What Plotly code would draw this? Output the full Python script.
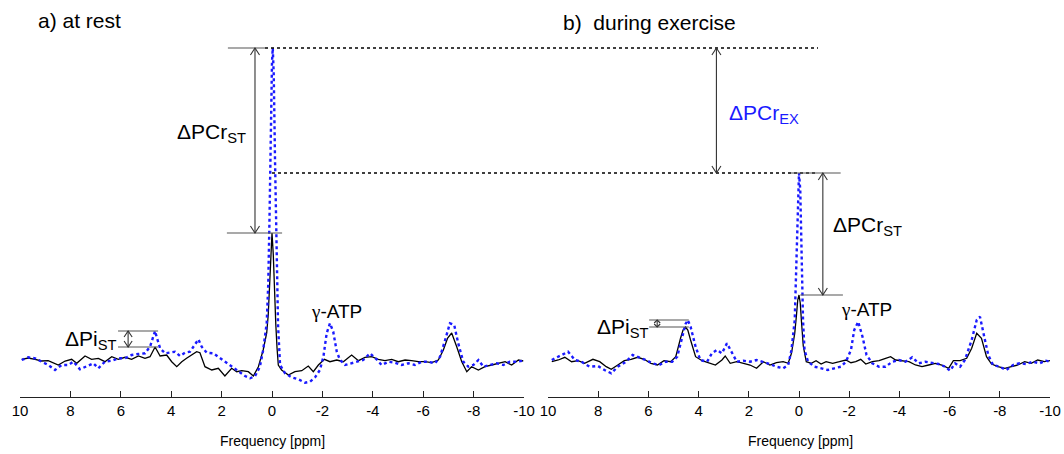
import plotly.graph_objects as go

W, H = 1064, 454

# ---------------- data (ppm, intensity a.u.) ----------------
rest_black_ppm = [9.93, 9.67, 9.40, 9.14, 8.88, 8.48, 8.21, 7.95, 7.75, 7.42, 7.16, 6.89, 6.63, 6.36, 6.10, 5.83, 5.57,
                  5.30, 5.04, 4.84, 4.64, 4.44, 4.18, 3.98, 3.78, 3.58, 3.39, 3.19, 2.99, 2.86, 2.66, 2.39, 2.13, 1.87,
                  1.60, 1.40, 1.20, 0.94, 0.74, 0.54, 0.35, 0.21, 0.15, 0.10, 0.05, 0.0, -0.05, -0.10, -0.15, -0.20,
                  -0.25, -0.38, -0.65, -0.91, -1.18, -1.44, -1.64, -1.84, -2.08, -2.30, -2.57, -2.83, -3.16, -3.43,
                  -3.69, -3.96, -4.22, -4.48, -4.75, -5.01, -5.28, -5.54, -5.81, -6.07, -6.34, -6.60, -6.80, -6.97,
                  -7.13, -7.33, -7.53, -7.73, -7.92, -8.19, -8.45, -8.72, -8.98, -9.25, -9.51, -9.78, -9.97]
rest_black_val = [0.7, 2.0, 0.7, -1.0, -0.7, -5, -1, 0.7, -3.3, 4, 0.7, 1.7, -1.7, 3.3, 0.7, 2.7, 0.7,
                  4, 1.7, 3.3, 13, 4, 5, -1.7, -6.7, -1.7, 1.7, 5, 8.3, 7.3, -6.7, -10, -8.3, -16,
                  -8.3, -11.7, -10.7, -11.7, -16, -6.7, 10, 27, 45, 72, 110, 127, 106, 66, 36, 12,
                  -5, -10, -15, -11.7, -10.7, -6, -11.7, -5, 0.7, -1.7, 0, -1.7, 5, -0.7,
                  2.7, 3.3, 0.7, -0.7, 0.7, -1.7, 0, -0.7, -1.7, -1.7, -2.7, 0, 10, 22,
                  27, 13.3, -1.7, -11.7, -6.7, -10, -6.7, -5, -3.3, -1.7, -5, 0, -1]

rest_blue_ppm = [9.93, 9.67, 9.40, 9.14, 8.88, 8.61, 8.35, 8.08, 7.88, 7.62, 7.36, 7.09, 6.89, 6.63, 6.36, 6.10, 5.83,
                 5.57, 5.30, 5.04, 4.84, 4.71, 4.64, 4.58, 4.44, 4.24, 4.05, 3.85, 3.65, 3.45, 3.25, 3.06, 2.92, 2.79,
                 2.59, 2.33, 2.06, 1.87, 1.60, 1.34, 1.07, 0.87, 0.67, 0.48, 0.35, 0.21, 0.15, 0.10, 0.05, 0.0,
                 -0.03, -0.07, -0.12, -0.18, -0.24, -0.32, -0.52, -0.78, -1.05, -1.31, -1.51, -1.71, -1.90, -2.04,
                 -2.17, -2.30, -2.43, -2.57, -2.70, -2.90, -3.16, -3.36, -3.62, -3.89, -4.15, -4.35, -4.62, -4.88,
                 -5.15, -5.41, -5.67, -5.94, -6.20, -6.47, -6.67, -6.87, -7.06, -7.23, -7.39, -7.59, -7.79, -7.99,
                 -8.19, -8.39, -8.65, -8.92, -9.18, -9.44, -9.71, -9.97]
rest_blue_val = [0, 2.7, 1.7, -1.7, -5, -10, -5, -5, -1.7, -9.3, -6.7, -3.3, -8.3, -1.7, -0.7, 1.7, 1.7,
                 5, 6, 6.7, 13.3, 25, 29, 23.3, 11.7, 6.7, 7.3, 8.3, 4, 7.3, 8.3, 15, 20.7, 13.3,
                 7.3, 6.7, 1.7, -1.7, -6.7, -11.7, -16, -18.3, -16, -6.7, 10, 37, 75, 140, 235, 298,
                 312, 285, 200, 100, 35, -5, -13.3, -17.3, -19.3, -22.7, -21.7, -17.3, -10, 3.3,
                 26.7, 36.7, 28.3, 8.3, 0, -5, -3.3, -1.7, 0, 6.7, 0.7, -5, -1.7, -2.7,
                 -5, -3.3, -5, -1.7, -1.7, -3.3, 3.3, 20, 36.7, 35, 16.7, -1.7, -6.7, -5,
                 0, -6.7, -5, -3.3, -5, -1.7, -1.7, -0.7]

ex_black_ppm = [9.85, 9.59, 9.33, 9.06, 8.80, 8.54, 8.21, 7.94, 7.68, 7.48, 7.22, 6.96, 6.69, 6.43, 6.17, 5.90, 5.64,
                5.38, 5.11, 4.91, 4.72, 4.62, 4.52, 4.43, 4.32, 4.12, 3.86, 3.60, 3.33, 3.07, 2.94, 2.74, 2.48, 2.21,
                1.95, 1.69, 1.42, 1.16, 0.90, 0.63, 0.43, 0.30, 0.17, 0.10, 0.05, 0.0, -0.05, -0.10, -0.17, -0.29,
                -0.49, -0.68, -0.88, -1.08, -1.34, -1.61, -1.87, -2.07, -2.26, -2.46, -2.66, -2.92, -3.19, -3.45,
                -3.65, -3.85, -4.11, -4.38, -4.64, -4.90, -5.17, -5.43, -5.69, -5.96, -6.15, -6.42, -6.68, -6.88,
                -7.08, -7.27, -7.47, -7.67, -7.93, -8.20, -8.46, -8.72, -8.99, -9.25, -9.51, -9.78, -10.0]
ex_black_val = [-1.7, 0, 2.7, -1.7, -0.7, -3.3, 0.7, -1.7, -6.7, -9.3, -5, -0.7, 0.7, 2.7, 0.7, -3.3, -5,
                -0.7, -1.7, 3.3, 21.7, 30, 33, 30, 20, 3.3, -0.7, -2.7, -5, 0, 4, -3.3, -1.7, -3.3,
                -5, -8.3, -1.7, -5, -2.7, -1.7, -3.3, 6.7, 26.7, 45, 60, 65, 57, 38, 14, -1.7,
                -3.3, -0.7, -4, -1.7, -3.3, -1.7, 0, -2.7, -1.7, 0.7, -4, -1.7, -0.7, 1.7,
                3.3, 0, -0.7, -1.7, -5, -6.7, -5, -3.3, -5, -8.3, -0.7, -0.7, 1.7, 11.7,
                26.7, 21.7, 3.3, -4, -6.7, -8.3, -6.7, -5, -1.7, -3.3, 0, -1.7, -0.7]

ex_blue_ppm = [9.85, 9.59, 9.20, 8.93, 8.67, 8.34, 8.01, 7.75, 7.48, 7.22, 6.89, 6.63, 6.36, 6.10, 5.84, 5.57, 5.31,
               5.05, 4.85, 4.65, 4.52, 4.43, 4.32, 4.12, 3.93, 3.66, 3.47, 3.27, 3.07, 2.87, 2.67, 2.48, 2.21, 1.95,
               1.69, 1.42, 1.16, 0.90, 0.63, 0.43, 0.30, 0.17, 0.10, 0.05, 0.0, -0.05, -0.10, -0.16, -0.22, -0.36,
               -0.62, -0.88, -1.15, -1.41, -1.67, -1.87, -2.07, -2.20, -2.36, -2.53, -2.69, -2.92, -3.19, -3.45,
               -3.72, -3.98, -4.24, -4.51, -4.77, -5.03, -5.30, -5.56, -5.82, -6.02, -6.22, -6.42, -6.61, -6.88,
               -7.08, -7.21, -7.38, -7.54, -7.73, -7.99, -8.26, -8.53, -8.79, -9.05, -9.32, -9.58, -9.84, -10.0]
ex_blue_val = [0, 3.3, 8.3, 0, -1.7, -6.7, -6, -10, -13.3, -6.7, -1.7, 5, 2.7, 0, -3.3, -5, -1.7,
               -1.7, 3.3, 23.3, 36, 40, 33.3, 13.3, 0, -1.7, 6.7, 10, 6.7, 16.7, 6.7, -1.7, -0.7, -1.7,
               0, -1.7, -4, -6.7, -8.3, -5, 10, 40, 100, 160, 187, 170, 110, 40, 10, -1.7,
               -6.7, -8.3, -10, -8.3, -6.7, -1.7, 10, 30, 38.3, 23.3, 5, -3.3, -6.7, -6.7,
               -1.7, 0, -1.7, 2.7, -3.3, -1.7, -2.7, -4, -6.7, -10.7, -3.3, -6.7, 0, 20,
               40, 43.3, 23.3, 5, -5, -6.7, -10, -5, -3.3, -4, -1.7, -3.3, -0.7, -1.7]

tick_vals = [10, 8, 6, 4, 2, 0, -2, -4, -6, -8, -10]
tick_text = ["10", "8", "6", "4", "2", "0", "-2", "-4", "-6", "-8", "-10"]

# ---------------- figure ----------------
BLUE = "#1a1aff"
fig = go.Figure()
fig.add_trace(go.Scatter(x=rest_black_ppm, y=rest_black_val, xaxis="x", yaxis="y", mode="lines",
                         line=dict(color="black", width=1.3)))
fig.add_trace(go.Scatter(x=rest_blue_ppm, y=rest_blue_val, xaxis="x", yaxis="y", mode="lines",
                         line=dict(color=BLUE, width=2.4, dash="dot")))
fig.add_trace(go.Scatter(x=ex_black_ppm, y=ex_black_val, xaxis="x2", yaxis="y", mode="lines",
                         line=dict(color="black", width=1.3)))
fig.add_trace(go.Scatter(x=ex_blue_ppm, y=ex_blue_val, xaxis="x2", yaxis="y", mode="lines",
                         line=dict(color=BLUE, width=2.4, dash="dot")))


def peak(ppm, val, lo, hi):
    return max(v for p, v in zip(ppm, val) if lo <= p <= hi)


rest_pcr_black = peak(rest_black_ppm, rest_black_val, -0.5, 0.5)
rest_pcr_blue = peak(rest_blue_ppm, rest_blue_val, -0.5, 0.5)
ex_pcr_black = peak(ex_black_ppm, ex_black_val, -0.5, 0.5)
ex_pcr_blue = peak(ex_blue_ppm, ex_blue_val, -0.5, 0.5)
rest_pi_black = peak(rest_black_ppm, rest_black_val, 4, 5.5)
rest_pi_blue = peak(rest_blue_ppm, rest_blue_val, 4, 5.5)
ex_pi_black = peak(ex_black_ppm, ex_black_val, 4, 5.5)
ex_pi_blue = peak(ex_blue_ppm, ex_blue_val, 4, 5.5)

shapes = []
GRAY = "#555555"
ARROW = "#333333"


def hline(xref, x0, x1, y, color=GRAY, width=1.2, dash="solid"):
    shapes.append(dict(type="line", xref=xref, yref="y", x0=x0, x1=x1, y0=y, y1=y,
                       line=dict(color=color, width=width, dash=dash)))


def darrow(xref, x, ylo, yhi, hw, hl, color=ARROW, width=1.1):
    shapes.append(dict(type="line", xref=xref, yref="y", x0=x, x1=x, y0=ylo, y1=yhi,
                       line=dict(color=color, width=width)))
    shapes.append(dict(type="path", xref=xref, yref="y",
                       path=f"M {x - hw},{yhi - hl} L {x},{yhi} L {x + hw},{yhi - hl}",
                       line=dict(color=color, width=width)))
    shapes.append(dict(type="path", xref=xref, yref="y",
                       path=f"M {x - hw},{ylo + hl} L {x},{ylo} L {x + hw},{ylo + hl}",
                       line=dict(color=color, width=width)))


# dotted reference lines across panels
shapes.append(dict(type="line", xref="paper", yref="y", x0=265 / W, x1=818 / W, y0=rest_pcr_blue, y1=rest_pcr_blue,
                   line=dict(color="black", width=1.6, dash="dot")))
shapes.append(dict(type="line", xref="paper", yref="y", x0=272 / W, x1=818 / W, y0=ex_pcr_blue, y1=ex_pcr_blue,
                   line=dict(color="black", width=1.6, dash="dot")))

# panel a) PCr
hline("x", 1.75, 0.28, rest_pcr_blue)
hline("x", 1.79, -0.40, rest_pcr_black)
darrow("x", 0.675, rest_pcr_black, rest_pcr_blue, 0.18, 7)
# panel a) Pi
hline("x", 6.11, 4.52, rest_pi_blue)
hline("x", 6.11, 4.52, rest_pi_black)
darrow("x", 5.71, rest_pi_black, rest_pi_blue, 0.16, 6)

# panel b) PCr
hline("x2", 0.32, -1.66, ex_pcr_blue)
hline("x2", -0.05, -1.75, ex_pcr_black)
darrow("x2", -0.95, ex_pcr_black, ex_pcr_blue, 0.18, 7)
darrow("x2", 3.29, ex_pcr_blue, rest_pcr_blue, 0.18, 7)
# panel b) Pi
hline("x2", 5.97, 4.39, ex_pi_blue)
hline("x2", 5.97, 4.39, ex_pi_black)
darrow("x2", 5.65, ex_pi_black, ex_pi_blue, 0.12, 3)

FONT = "Liberation Sans, Arial, sans-serif"


def py(ypix):
    return 1 - ypix / H


def px(xpix):
    return xpix / W


annotations = []


def label(text, x, y, xanchor="center", size=21, color="black"):
    annotations.append(dict(text=text, xref="paper", yref="paper", x=px(x), y=py(y), xanchor=xanchor,
                            yanchor="middle", showarrow=False, font=dict(family=FONT, size=size, color=color)))


label("a) at rest", 36, 20, xanchor="left", size=21)
label("b)  during exercise", 561, 22, xanchor="left", size=21)
label("ΔPCr<sub>ST</sub>", 248, 133, xanchor="right")
label("ΔPCr<sub>ST</sub>", 831, 226, xanchor="left")
label("ΔPCr<sub>EX</sub>", 727, 114, xanchor="left", color=BLUE)
label("ΔPi<sub>ST</sub>", 119, 340, xanchor="right")
label("ΔPi<sub>ST</sub>", 651, 328, xanchor="right")
g = "<span style='font-family:Liberation Serif, Times New Roman, serif'>γ</span>-ATP"
label(g, 336, 311, size=19)
label(g, 866, 309, size=19)
label("Frequency [ppm]", 272, 441, size=14)
label("Frequency [ppm]", 800, 441, size=14)

axis_common = dict(range=[10, -10], anchor="y", showline=True, linecolor="#222222", linewidth=1,
                   ticks="inside", ticklen=6, tickwidth=1, tickcolor="#222222", automargin=False,
                   tickvals=tick_vals, ticktext=tick_text, showgrid=False, zeroline=False,
                   tickfont=dict(family=FONT, size=15, color="black"))

fig.update_layout(
    width=W, height=H, autosize=False,
    margin=dict(l=0, r=0, t=0, b=0, pad=0),
    paper_bgcolor="white", plot_bgcolor="white",
    showlegend=False,
    xaxis=dict(domain=[20 / W, 524 / W], **axis_common),
    xaxis2=dict(domain=[548 / W, 1050 / W], **axis_common),
    yaxis=dict(domain=[1 - 397 / H, 1], range=[-37, 360], visible=False, automargin=False),
    shapes=shapes,
    annotations=annotations,
)

fig.write_html("out.html", config={"displayModeBar": False})
